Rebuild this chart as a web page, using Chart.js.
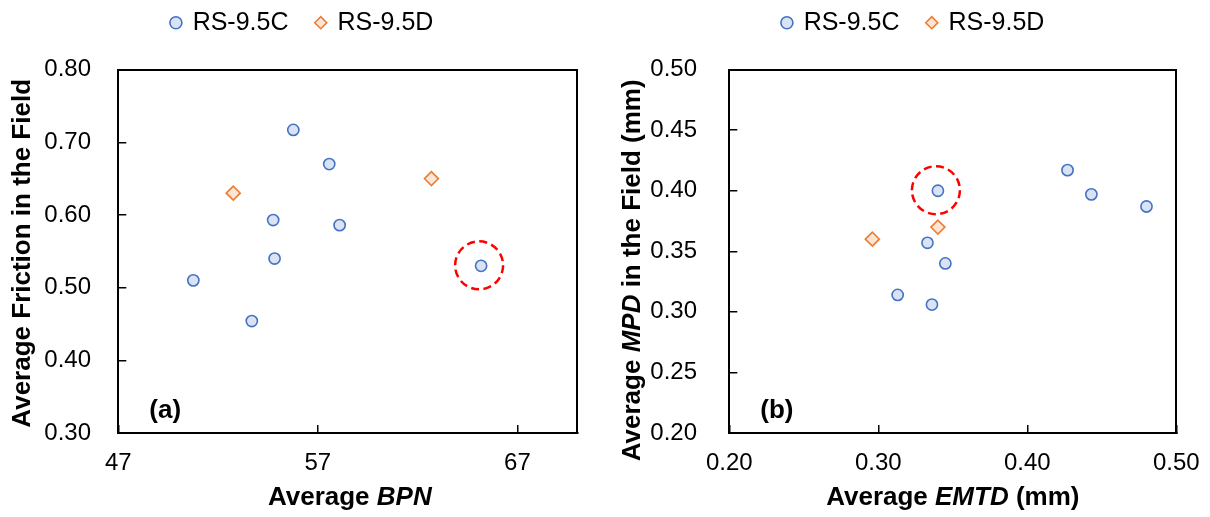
<!DOCTYPE html>
<html>
<head>
<meta charset="utf-8">
<script src="https://cdn.jsdelivr.net/npm/chart.js@4.4.0/dist/chart.umd.min.js"></script>
<style>
  html, body { margin: 0; padding: 0; background: #fff; }
  .row { display: flex; width: 1210px; height: 517px; }
  canvas { display: block; }
</style>
</head>
<body>
<div class="row">
  <canvas id="chartA" width="605" height="517"></canvas>
  <canvas id="chartB" width="605" height="517"></canvas>
</div>
<script>
// ---- Panel (a): average field friction vs. average BPN ----
const bpnC      = [55.77, 57.57, 54.76, 58.09, 54.83, 50.76, 53.69, 65.18];
const frictionC = [0.717, 0.670, 0.593, 0.586, 0.540, 0.510, 0.454, 0.530];
const bpnD      = [52.76, 62.69];
const frictionD = [0.630, 0.650];
const bpnRange      = [47, 70];
const frictionRange = [0.30, 0.80];
const bpnTicks      = [47, 57, 67];
const frictionTicks = [0.30, 0.40, 0.50, 0.60, 0.70, 0.80];
const ringA = 7;   // RS-9.5C section circled in red

// ---- Panel (b): average field MPD vs. average EMTD ----
const emtdC = [0.427, 0.443, 0.480, 0.340, 0.333, 0.345, 0.313, 0.336];
const mpdC  = [0.417, 0.397, 0.387, 0.400, 0.357, 0.340, 0.314, 0.306];
const emtdD = [0.340, 0.296];
const mpdD  = [0.370, 0.360];
const emtdRange = [0.20, 0.50];
const mpdRange  = [0.20, 0.50];
const emtdTicks = [0.20, 0.30, 0.40, 0.50];
const mpdTicks  = [0.20, 0.25, 0.30, 0.35, 0.40, 0.45, 0.50];
const ringB = 3;

const seriesNames = ['RS-9.5C', 'RS-9.5D'];

const FAMILY = "'Liberation Sans', Arial, Helvetica, sans-serif";
Chart.defaults.font.family = FAMILY;
Chart.defaults.color = '#000';

function points(xs, ys) {
  return xs.map((x, i) => ({ x: x, y: ys[i] }));
}

// Draws a line of text made of bold / bold-italic runs, centred on (x, y).
function drawRuns(ctx, runs, x, y, vertical) {
  const fontFor = r => (r.italic ? 'italic ' : '') + 'bold 26px ' + FAMILY;
  let total = 0;
  const widths = runs.map(r => { ctx.font = fontFor(r); const w = ctx.measureText(r.text).width; total += w; return w; });
  ctx.save();
  ctx.translate(x, y);
  if (vertical) ctx.rotate(-Math.PI / 2);
  ctx.fillStyle = '#000';
  ctx.textAlign = 'left';
  ctx.textBaseline = 'middle';
  let cx = -total / 2;
  runs.forEach((r, i) => { ctx.font = fontFor(r); ctx.fillText(r.text, cx, 0); cx += widths[i]; });
  ctx.restore();
}

// Axis titles, panel tag and the dashed ring round one highlighted point.
const decorations = {
  id: 'decorations',
  afterDatasetsDraw(chart, args, o) {
    const { ctx, scales } = chart;
    const p = chart.data.datasets[0].data[o.ring];
    const cx = scales.x.getPixelForValue(p.x);
    const cy = scales.y.getPixelForValue(p.y);
    ctx.save();
    ctx.strokeStyle = '#FF0000';
    ctx.lineWidth = 2.5;
    ctx.setLineDash([8, 4.5]);
    ctx.beginPath();
    ctx.arc(cx - 2, cy - 0.5, 24, 0, Math.PI * 2);
    ctx.stroke();
    ctx.restore();
  },
  afterDraw(chart, args, o) {
    const { ctx, chartArea: a } = chart;
    drawRuns(ctx, o.xTitle, (a.left + a.right) / 2 + o.xTitleShift, 498, false);
    drawRuns(ctx, o.yTitle, o.yTitleX, (a.top + a.bottom) / 2 + o.yTitleShift, true);
    ctx.save();
    ctx.font = 'bold 26px ' + FAMILY;
    ctx.fillStyle = '#000';
    ctx.textAlign = 'left';
    ctx.textBaseline = 'middle';
    ctx.fillText(o.tag, a.left + 31, a.bottom - 22);
    ctx.restore();
  }
};

// Fixed box sizes keep both plot frames at the same place on every render.
function pinBox(w, h) {
  return s => {
    if (w !== null) s.width = w;
    if (h !== null) s.height = h;
    s.paddingLeft = s.paddingRight = s.paddingTop = s.paddingBottom = 0;
  };
}

function makeChart(id, c) {
  const tickScale = ticks => s => { s.ticks = ticks.map(v => ({ value: v })); };
  const fmt = digits => v => Number(v).toFixed(digits);
  const frame = { display: true, color: '#000', width: 2 };
  return new Chart(document.getElementById(id), {
    type: 'scatter',
    data: {
      datasets: [
        {
          label: seriesNames[0], data: points(c.xC, c.yC),
          pointStyle: 'circle', pointRadius: 5.6,
          backgroundColor: '#DAE3F3', borderColor: '#4472C4', borderWidth: 1.6,
          xAxisID: 'x', yAxisID: 'y'
        },
        {
          label: seriesNames[1], data: points(c.xD, c.yD),
          pointStyle: 'rectRot', pointRadius: 7,
          backgroundColor: '#FBE5D6', borderColor: '#ED7D31', borderWidth: 1.6,
          xAxisID: 'x', yAxisID: 'y'
        }
      ]
    },
    options: {
      responsive: false,
      animation: false,
      events: [],
      layout: { autoPadding: false, padding: { top: -17.8, left: c.padLeft, right: 0, bottom: 0 } },
      plugins: {
        tooltip: { enabled: false },
        legend: {
          position: 'top',
          labels: {
            usePointStyle: true, boxWidth: 8.5, boxHeight: 8.5, padding: 28,
            font: { size: 25 }, color: '#000'
          }
        },
        decorations: {
          ring: c.ring, tag: c.tag, xTitle: c.xTitle, yTitle: c.yTitle,
          xTitleShift: c.xTitleShift, yTitleX: c.yTitleX, yTitleShift: c.yTitleShift
        }
      },
      scales: {
        x: {
          type: 'linear', position: 'bottom', min: c.xRange[0], max: c.xRange[1],
          afterBuildTicks: tickScale(c.xTicks),
          afterFit: pinBox(null, 84),
          grid: { display: true, drawOnChartArea: false, drawTicks: true, tickLength: -8, color: '#000', lineWidth: 1.5 },
          border: frame,
          ticks: { padding: 24, autoSkip: false, maxRotation: 0, font: { size: 24 }, color: '#000', callback: fmt(c.xDigits) }
        },
        y: {
          type: 'linear', position: 'left', min: c.yRange[0], max: c.yRange[1],
          afterBuildTicks: tickScale(c.yTicks),
          afterFit: pinBox(c.yAxisWidth, null),
          grid: { display: true, drawOnChartArea: false, drawTicks: true, tickLength: -8, color: '#000', lineWidth: 1.5 },
          border: frame,
          ticks: { padding: c.yPad, autoSkip: false, font: { size: 24 }, color: '#000', callback: fmt(c.yDigits) }
        },
        xTop: {
          type: 'linear', position: 'top',
          afterFit: pinBox(null, 24.4),
          grid: { display: false, drawTicks: false }, ticks: { display: false }, border: frame
        },
        yRight: {
          type: 'linear', position: 'right',
          afterFit: pinBox(c.rightWidth, null),
          grid: { display: false, drawTicks: false }, ticks: { display: false }, border: frame
        }
      }
    },
    plugins: [decorations]
  });
}

makeChart('chartA', {
  xC: bpnC, yC: frictionC, xD: bpnD, yD: frictionD,
  xRange: bpnRange, yRange: frictionRange, xTicks: bpnTicks, yTicks: frictionTicks,
  xDigits: 0, yDigits: 2, ring: ringA, tag: '(a)',
  padLeft: 0, yAxisWidth: 118.3, rightWidth: 27.7, yPad: 35.3,
  xTitle: [{ text: 'Average ' }, { text: 'BPN', italic: true }], xTitleShift: 2,
  yTitle: [{ text: 'Average Friction in the Field' }], yTitleX: 23, yTitleShift: 2
});

makeChart('chartB', {
  xC: emtdC, yC: mpdC, xD: emtdD, yD: mpdD,
  xRange: emtdRange, yRange: mpdRange, xTicks: emtdTicks, yTicks: mpdTicks,
  xDigits: 2, yDigits: 2, ring: ringB, tag: '(b)',
  padLeft: 12, yAxisWidth: 112.3, rightWidth: 33.7, yPad: 40.3,
  xTitle: [{ text: 'Average ' }, { text: 'EMTD', italic: true }, { text: ' (mm)' }], xTitleShift: 0,
  yTitle: [{ text: 'Average ' }, { text: 'MPD', italic: true }, { text: ' in the Field (mm)' }], yTitleX: 28, yTitleShift: 19
});
</script>
</body>
</html>
